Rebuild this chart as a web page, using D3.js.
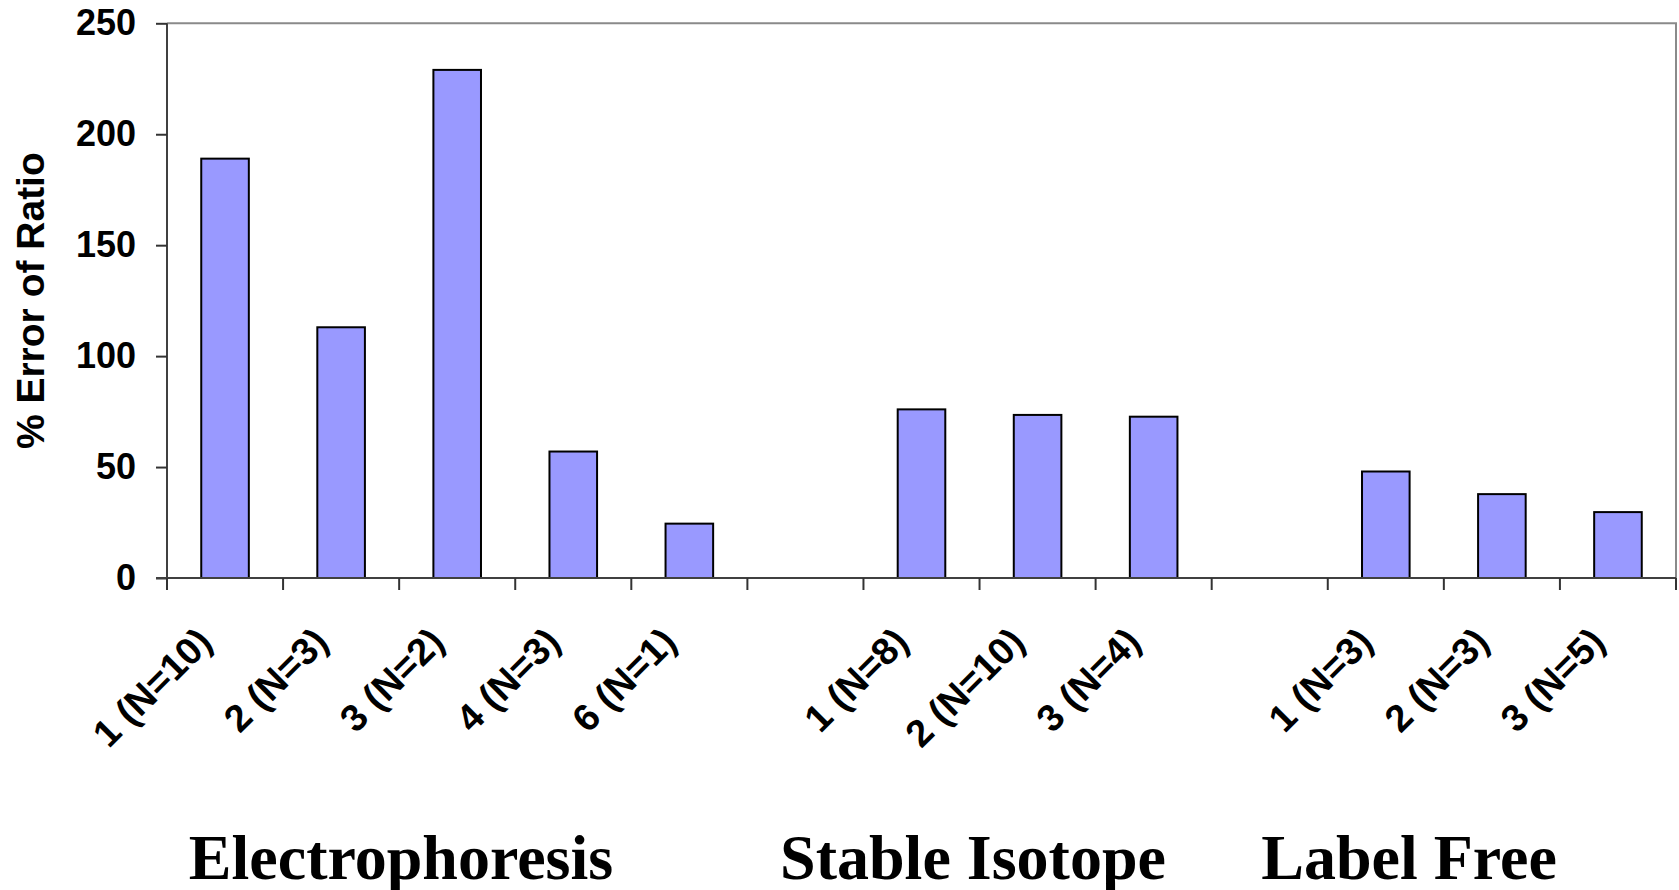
<!DOCTYPE html>
<html>
<head>
<meta charset="utf-8">
<script src="https://cdn.jsdelivr.net/npm/d3@7"></script>
<style>
  html, body { margin: 0; padding: 0; background: #ffffff; }
  svg { display: block; }
</style>
</head>
<body>
<svg id="chart" width="1679" height="890"></svg>
<script>
// ---- data ----
const groupNames = ["Electrophoresis", "Stable Isotope", "Label Free"];
const electroLabels = ["1 (N=10)", "2 (N=3)", "3 (N=2)", "4 (N=3)", "6 (N=1)"];
const electroValues = [189, 113, 229, 57, 24.5];
const isotopeLabels = ["1 (N=8)", "2 (N=10)", "3 (N=4)"];
const isotopeValues = [76, 73.5, 72.7];
const labelFreeLabels = ["1 (N=3)", "2 (N=3)", "3 (N=5)"];
const labelFreeValues = [48, 37.8, 29.7];
const yTicks = [0, 50, 100, 150, 200, 250];
const yTitle = "% Error of Ratio";

// ---- layout ----
const W = 1679, H = 890;
const plot = { left: 167, right: 1676, top: 23.3, bottom: 578 };
const groupLabelX = [401, 973, 1409];
const groupLabelY = 879;

// build slots (one empty slot between groups)
const groupsData = [
  { labels: electroLabels, values: electroValues },
  { labels: isotopeLabels, values: isotopeValues },
  { labels: labelFreeLabels, values: labelFreeValues }
];
const slots = [];
groupsData.forEach((g, gi) => {
  if (gi > 0) slots.push({ key: "gap" + gi, label: "", value: null });
  g.labels.forEach((l, i) => slots.push({ key: gi + "-" + i, label: l, value: g.values[i] }));
});

const svg = d3.select("#chart");

const x = d3.scaleBand()
  .domain(slots.map(d => d.key))
  .range([plot.left, plot.right])
  .paddingInner(0).paddingOuter(0);

const y = d3.scaleLinear()
  .domain([0, 250])
  .range([plot.bottom, plot.top]);

const barW = x.bandwidth() * 0.41;

// plot border top & right
svg.append("path")
  .attr("d", `M${plot.left},${y(250)}H${plot.right}V${plot.bottom}`)
  .attr("fill", "none")
  .attr("stroke", "#8a8a8a")
  .attr("stroke-width", 2);

// bars
svg.append("g").selectAll("rect")
  .data(slots.filter(d => d.value !== null))
  .join("rect")
  .attr("x", d => x(d.key) + x.bandwidth() / 2 - barW / 2)
  .attr("y", d => y(d.value))
  .attr("width", barW)
  .attr("height", d => y(0) - y(d.value))
  .attr("fill", "#9999FF")
  .attr("stroke", "#000")
  .attr("stroke-width", 2);

// y axis
const yAxis = d3.axisLeft(y)
  .tickValues(yTicks)
  .tickSize(11)
  .tickPadding(20)
  .tickFormat(d3.format("d"));
const gy = svg.append("g")
  .attr("transform", `translate(${plot.left},0)`)
  .call(yAxis);
gy.select(".domain").attr("stroke", "#404040").attr("stroke-width", 2)
  .attr("d", `M0,${plot.top}V${plot.bottom}`);
gy.selectAll(".tick line").attr("stroke", "#333").attr("stroke-width", 2);
gy.selectAll(".tick text")
  .attr("font-family", "Liberation Sans, Arial, sans-serif")
  .attr("font-weight", "bold")
  .attr("font-size", 36)
  .attr("fill", "#000");

// x axis line
svg.append("line")
  .attr("x1", plot.left - 11).attr("x2", plot.right)
  .attr("y1", y(0)).attr("y2", y(0))
  .attr("stroke", "#404040").attr("stroke-width", 2);

// x boundary ticks
const boundaries = slots.map(d => x(d.key)).concat([plot.right]);
svg.append("g").selectAll("line")
  .data(boundaries)
  .join("line")
  .attr("x1", d => d).attr("x2", d => d)
  .attr("y1", y(0)).attr("y2", y(0) + 12)
  .attr("stroke", "#333").attr("stroke-width", 2);

// x category labels (rotated)
svg.append("g").selectAll("text")
  .data(slots.filter(d => d.label !== ""))
  .join("text")
  .attr("transform", d => `translate(${x(d.key) + x.bandwidth() / 2 - 11},${y(0) + 66}) rotate(-45)`)
  .attr("text-anchor", "end")
  .attr("font-family", "Liberation Sans, Arial, sans-serif")
  .attr("font-weight", "bold")
  .attr("font-size", 38)
  .attr("fill", "#000")
  .text(d => d.label);

// y title
svg.append("text")
  .attr("transform", `translate(44,${(plot.top + plot.bottom) / 2}) rotate(-90)`)
  .attr("text-anchor", "middle")
  .attr("font-family", "Liberation Sans, Arial, sans-serif")
  .attr("font-weight", "bold")
  .attr("font-size", 39)
  .attr("fill", "#000")
  .text(yTitle);

// group labels
svg.append("g").selectAll("text")
  .data(groupNames)
  .join("text")
  .attr("x", (d, i) => groupLabelX[i])
  .attr("y", groupLabelY)
  .attr("text-anchor", "middle")
  .attr("font-family", "Liberation Serif, Times New Roman, serif")
  .attr("font-weight", "bold")
  .attr("font-size", 64)
  .attr("fill", "#000")
  .text(d => d);
</script>
</body>
</html>
